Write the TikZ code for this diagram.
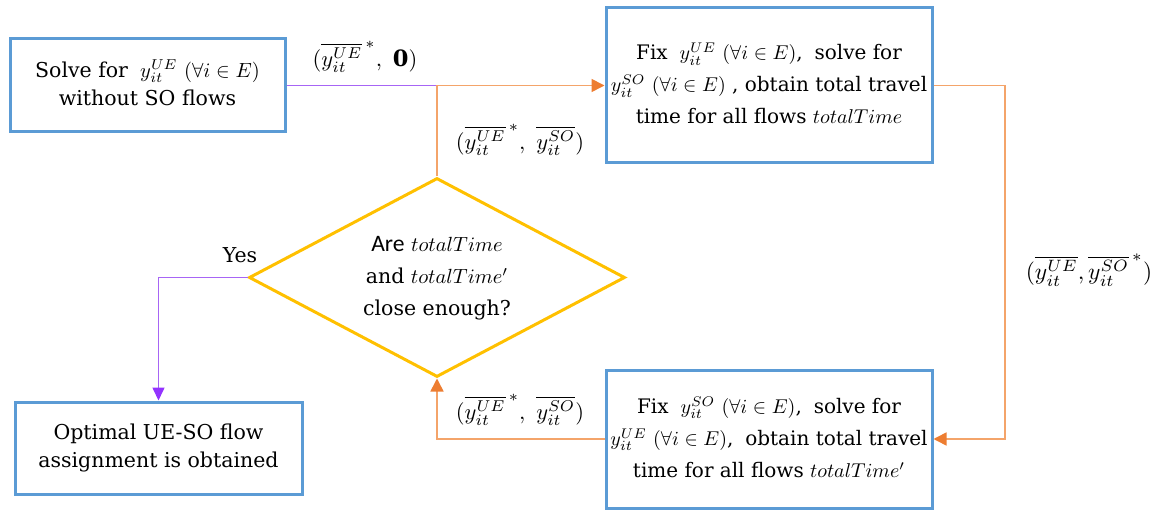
\documentclass[tikz,border=0pt]{standalone}
\usepackage{graphicx}
\usepackage{fontspec}
\setmainfont{DejaVu Serif}
\newfontfamily\calfont{Carlito}
\usetikzlibrary{arrows.meta,shapes.geometric}
\definecolor{boxblue}{HTML}{5B9BD5}
\definecolor{lineorange}{HTML}{F4A46A}
\definecolor{tiporange}{HTML}{ED7D31}
\definecolor{linepurple}{HTML}{A765F5}
\definecolor{tippurple}{HTML}{9333FF}
\definecolor{dyellow}{HTML}{FFC000}
\newcommand\mtxt[3]{\scalebox{#1}{\fontsize{10}{#2}\selectfont\begin{tabular}{@{}c@{}}#3\end{tabular}}}
\tikzset{
  procbox/.style={draw=boxblue, line width=3pt, fill=white, align=center, inner sep=0pt},
  decbox/.style={draw=dyellow, line width=3pt, diamond, align=center, inner sep=0pt},
  olink/.style={draw=lineorange, line width=1.6pt},
  plink/.style={draw=linepurple, line width=1.6pt},
  otip/.style={-{Triangle[length=13pt,width=13pt,color=tiporange]}},
  ptip/.style={-{Triangle[length=13pt,width=12pt,color=tippurple]}},
  lbl/.style={inner sep=0pt}
}
\begin{document}
\begin{tikzpicture}[x=1pt,y=-1pt]
\useasboundingbox (0,0) rectangle (1166,510);
\node[procbox, minimum width=275pt, minimum height=93pt] (b1) at (147.5,85.5)
  {\mtxt{2.05}{13.6}{Solve for $\;y_{it}^{UE}$ $(\forall i\in E)$\\without SO flows}};
\node[procbox, minimum width=326pt, minimum height=155pt] (b2) at (769,85.5)
  {\mtxt{2.0}{16}{Fix $\;y_{it}^{UE}$ $(\forall i\in E)$,\; solve for\\$y_{it}^{SO}$ $(\forall i\in E)$ , obtain total travel\\time for all flows $totalTime$}};
\node[procbox, minimum width=326pt, minimum height=138pt] (b3) at (769,439)
  {\mtxt{2.0}{16}{Fix $\;y_{it}^{SO}$ $(\forall i\in E)$,\; solve for\\$y_{it}^{UE}$ $(\forall i\in E)$,\; obtain total travel\\time for all flows $totalTime'$}};
\node[procbox, minimum width=287pt, minimum height=92pt] (b4) at (158.5,448)
  {\mtxt{2.05}{13.6}{Optimal UE-SO flow\\assignment is obtained}};
\node[decbox, minimum width=376pt, minimum height=199pt, aspect=1.89] (d) at (437,277.5)
  {\mtxt{2.05}{15.6}{{\calfont\fontsize{11.5}{15.6}\selectfont Are} $totalTime$\\and $totalTime'$\\close enough?}};
\coordinate (j) at (437,85.5);
\coordinate (c1) at (1005,85.5);
\draw[plink] (b1.east) -- (j);
\draw[olink, otip] (d.north) -- (j) -- (b2.west);
\draw[olink, otip] (b2.east) -- (c1) |- (b3.east);
\draw[olink, otip] (b3.west) -| (d.south);
\draw[plink, ptip] (d.west) -| (b4.north);
\node[lbl] (l1) at (365,58) {\mtxt{2.25}{12}{$(\overline{y_{it}^{UE}}^{\,*},\ \mathbf{0})$}};
\node[lbl] (l2) at (520,141) {\mtxt{2.25}{12}{$(\overline{y_{it}^{UE}}^{\,*},\ \overline{y_{it}^{SO}})$}};
\node[lbl] (l3) at (1089,271) {\mtxt{2.35}{12}{$(\overline{y_{it}^{UE}},\overline{y_{it}^{SO}}^{\,*})$}};
\node[lbl] (l4) at (520,411) {\mtxt{2.25}{12}{$(\overline{y_{it}^{UE}}^{\,*},\ \overline{y_{it}^{SO}})$}};
\node[lbl] (yes) at (240,258) {\mtxt{2.05}{12}{Yes}};
\end{tikzpicture}
\end{document}
